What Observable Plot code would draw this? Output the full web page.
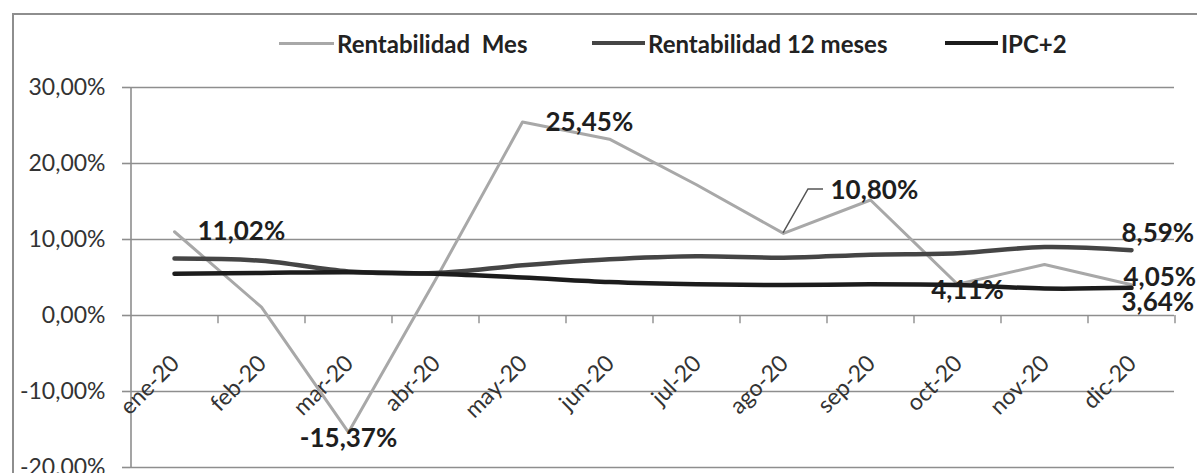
<!DOCTYPE html>
<html>
<head>
<meta charset="utf-8">
<script src="https://cdn.jsdelivr.net/npm/d3@7"></script>
<script src="https://cdn.jsdelivr.net/npm/@observablehq/plot@0.6"></script>
<style>
  body { margin: 0; background: #fff; }
  #wrap { position: relative; width: 1197px; height: 473px; overflow: hidden; font-family: Lato, "Open Sans", sans-serif; background: #fff; }
  #frame { position: absolute; left: 12px; top: 13px; width: 1300px; height: 600px; border: 2px solid #8e8e8e; box-sizing: border-box; }
  #chart { position: absolute; left: 0; top: 0; }
  .leg { position: absolute; top: 28px; height: 30px; display: flex; align-items: center; font-weight: 700; font-size: 24px; color: #222; white-space: pre; }
  .sw { display: inline-block; margin-right: 3px; }
</style>
</head>
<body>
<div id="wrap">
  <div id="frame"></div>
  <div id="chart"></div>
  <div id="legend"></div>
</div>
<script>
// ---- data ----
const months = ["ene-20","feb-20","mar-20","abr-20","may-20","jun-20","jul-20","ago-20","sep-20","oct-20","nov-20","dic-20"];
const seriesNames = ["Rentabilidad  Mes", "Rentabilidad 12 meses", "IPC+2"];
const rentMes = [11.02, 1.1, -15.37, 4.7, 25.45, 23.2, 17.2, 10.80, 15.2, 4.11, 6.7, 4.05];
const rent12  = [7.5, 7.2, 5.8, 5.6, 6.6, 7.4, 7.8, 7.6, 8.0, 8.2, 9.0, 8.59];
const ipc2    = [5.5, 5.6, 5.7, 5.5, 5.0, 4.4, 4.1, 4.0, 4.1, 4.0, 3.55, 3.64];
const yTicks  = [-20, -10, 0, 10, 20, 30];
const seriesColors = ["#a8a8a8", "#454545", "#1c1c1c"];

// ---- build tables ----
const toRows = (name, vals) => months.map((m, i) => ({month: m, value: vals[i], series: name}));
const mes = toRows(seriesNames[0], rentMes);
const r12 = toRows(seriesNames[1], rent12);
const ipc = toRows(seriesNames[2], ipc2);
const fmt = v => v.toFixed(2).replace(".", ",") + "%";
const at = (rows, m) => rows.filter(d => d.month === m);

const labelStyle = {x: "month", y: "value", text: d => fmt(d.value), fontSize: 26, fontWeight: "bold", fill: "#1e1e1e"};
const gridColor = "#8e8e8e";
const half = (1197 - 130 - 23) / months.length / 2;

function leader(index, scales) {
  const d = at(mes, "ago-20")[0];
  const px = scales.x(d.month), py = scales.y(d.value);
  return d3.create("svg:path")
    .attr("d", `M${px},${py}L${px + 25},${py - 44}L${px + 40},${py - 44}`)
    .attr("fill", "none").attr("stroke", "#555").attr("stroke-width", 1.5)
    .node();
}

const plot = Plot.plot({
  width: 1197, height: 473,
  marginLeft: 130, marginRight: 23, marginTop: 87, marginBottom: 6,
  style: {fontFamily: "Lato, 'Open Sans', sans-serif", background: "transparent", color: "#333", overflow: "visible"},
  x: {type: "point", domain: months, padding: 0.5, axis: null},
  y: {domain: [-20, 30], axis: null, label: null},
  marks: [
    Plot.ruleY(yTicks, {stroke: gridColor, strokeWidth: 1.6}),
    Plot.ruleX([months[0]], {dx: -half, y1: -20, y2: 30, stroke: gridColor, strokeWidth: 1.6}),
    Plot.ruleX(months, {x: d => d, dx: half, y1: 0, y2: -1.1, stroke: gridColor, strokeWidth: 1.4}),
    Plot.axisY(yTicks, {label: null, tickSize: 8, tickPadding: 17, tickFormat: fmt, fontSize: 23, stroke: gridColor, fill: "#333", strokeWidth: 1.6}),
    Plot.text(months, {x: d => d, y: () => 0, text: d => d, rotate: -45, textAnchor: "end", dx: 1, dy: 44, fontSize: 23, fill: "#333"}),
    Plot.line(mes, {x: "month", y: "value", stroke: seriesColors[0], strokeWidth: 3}),
    Plot.line(r12, {x: "month", y: "value", stroke: seriesColors[1], strokeWidth: 4.5, curve: "catmull-rom"}),
    Plot.line(ipc, {x: "month", y: "value", stroke: seriesColors[2], strokeWidth: 4.5, curve: "catmull-rom"}),
    leader,
    Plot.text(at(mes, "ene-20"), {...labelStyle, textAnchor: "start", dx: 23}),
    Plot.text(at(mes, "mar-20"), {...labelStyle, textAnchor: "middle", dy: 6}),
    Plot.text(at(mes, "may-20"), {...labelStyle, textAnchor: "start", dx: 23, dy: 1}),
    Plot.text(at(mes, "ago-20"), {...labelStyle, textAnchor: "start", dx: 47, dy: -43}),
    Plot.text(at(mes, "oct-20"), {...labelStyle, textAnchor: "middle", dx: 10, dy: 6}),
    Plot.text(at(r12, "dic-20"), {...labelStyle, textAnchor: "start", dx: -10, dy: -17}),
    Plot.text(at(mes, "dic-20"), {...labelStyle, textAnchor: "start", dx: -8, dy: -7}),
    Plot.text(at(ipc, "dic-20"), {...labelStyle, textAnchor: "start", dx: -10, dy: 15})
  ]
});
document.getElementById("chart").appendChild(plot);

// ---- legend ----
const legendLeft = [279, 592, 945];
const swatchW = [55, 53, 53];
const swatchH = [3, 4, 4];
const legend = document.getElementById("legend");
seriesNames.forEach((name, i) => {
  const item = document.createElement("div");
  item.className = "leg";
  item.style.left = legendLeft[i] + "px";
  const sw = document.createElement("span");
  sw.className = "sw";
  sw.style.width = swatchW[i] + "px";
  sw.style.height = swatchH[i] + "px";
  sw.style.background = seriesColors[i];
  item.appendChild(sw);
  item.appendChild(document.createTextNode(name));
  legend.appendChild(item);
});
</script>
</body>
</html>
